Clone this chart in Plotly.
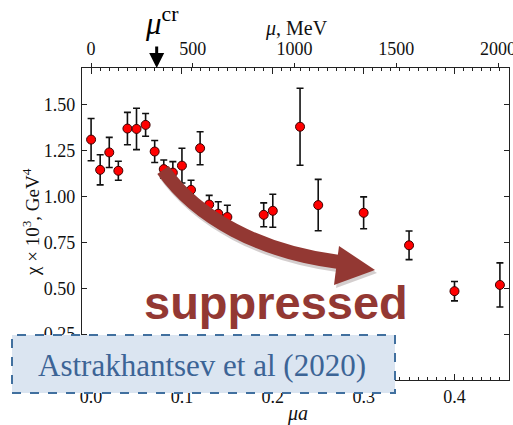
import plotly.graph_objects as go

# ---- data ----
mu_a = [0.00, 0.01, 0.02, 0.03, 0.04, 0.05, 0.06, 0.07, 0.08, 0.09, 0.10, 0.11,
        0.12, 0.13, 0.14, 0.15, 0.19, 0.20, 0.23, 0.25, 0.30, 0.35, 0.40, 0.45]
chi = [1.31, 1.145, 1.24, 1.14, 1.37, 1.368, 1.39, 1.245, 1.149, 1.13, 1.168, 1.036,
       1.263, 0.956, 0.906, 0.888, 0.90, 0.922, 1.38, 0.953, 0.911, 0.734, 0.484, 0.518]
chi_err = [0.115, 0.082, 0.082, 0.052, 0.088, 0.113, 0.062, 0.06, 0.05, 0.06, 0.095, 0.052,
           0.09, 0.05, 0.065, 0.064, 0.065, 0.09, 0.21, 0.14, 0.087, 0.078, 0.053, 0.12]
inv_a_MeV = 4465.0
mu_cr_a = 0.0722
top_ticks = [0, 500, 1000, 1500, 2000]
left_ticks = [0.0, 0.25, 0.5, 0.75, 1.0, 1.25, 1.5]

X_RANGE = [-0.01, 0.46]
Y_RANGE = [0.0, 1.70]

SERIF = "Liberation Serif"
RED = "#933833"

fig = go.Figure()

fig.add_trace(go.Scatter(
    x=mu_a, y=chi, mode="markers",
    marker=dict(color="#ff0000", size=9, line=dict(color="#3a0000", width=1)),
    error_y=dict(type="data", array=chi_err, color="#111111", thickness=1.6, width=3.5),
    showlegend=False, hoverinfo="skip"))

# invisible trace to anchor the top (MeV) axis
fig.add_trace(go.Scatter(
    x=[v * inv_a_MeV for v in mu_a], y=chi, xaxis="x2", mode="markers",
    marker=dict(opacity=0), showlegend=False, hoverinfo="skip"))

# ---- decorative curved arrow (pixel design converted to data coords) ----
def dx(px):
    return X_RANGE[0] + (px - 82) / 427 * (X_RANGE[1] - X_RANGE[0])

def dy(py):
    return Y_RANGE[0] + (380 - py) / 312 * (Y_RANGE[1] - Y_RANGE[0])

def curve_path(o=(0, 0)):
    pts = [(163, 170), (197, 218), (260, 252), (339, 262)]
    p = [(dx(a + o[0]), dy(b + o[1])) for a, b in pts]
    return (f"M {p[0][0]},{p[0][1]} C {p[1][0]},{p[1][1]} "
            f"{p[2][0]},{p[2][1]} {p[3][0]},{p[3][1]}")

def head_path(o=(0, 0)):
    pts = [(339, 246), (375, 270), (334, 285)]
    p = [(dx(a + o[0]), dy(b + o[1])) for a, b in pts]
    return f"M {p[0][0]},{p[0][1]} L {p[1][0]},{p[1][1]} L {p[2][0]},{p[2][1]} Z"

shadow = "rgba(60,30,30,0.22)"
fig.add_shape(type="path", path=curve_path((2, 3)), xref="x", yref="y",
              line=dict(color=shadow, width=15), layer="above")
fig.add_shape(type="path", path=head_path((2, 3)), xref="x", yref="y",
              fillcolor=shadow, line=dict(width=0), layer="above")
fig.add_shape(type="path", path=curve_path(), xref="x", yref="y",
              line=dict(color=RED, width=14), layer="above")
fig.add_shape(type="path", path=head_path(), xref="x", yref="y",
              fillcolor=RED, line=dict(width=0), layer="above")

# ---- citation box ----
fig.add_shape(type="rect", xref="paper", yref="paper",
              x0=(12 - 82) / 427, x1=(395 - 82) / 427,
              y0=(380 - 393) / 312, y1=(380 - 335) / 312,
              fillcolor="#dbe5f1", line=dict(color="#41709f", width=2, dash="dash"),
              layer="above")

fig.add_annotation(text="Astrakhantsev et al (2020)", xref="paper", yref="paper",
                   x=(202 - 82) / 427, y=(380 - 365) / 312, showarrow=False,
                   xanchor="center", yanchor="middle",
                   font=dict(family=SERIF, size=31, color="#3c6496"))

fig.add_annotation(text="<b>suppressed</b>", xref="paper", yref="paper",
                   x=(276 - 82) / 427, y=(380 - 302) / 312, showarrow=False,
                   xanchor="center", yanchor="middle",
                   font=dict(family="Liberation Sans", size=47, color=RED))

# ---- mu^cr marker ----
fig.add_annotation(text="", x=mu_cr_a, xref="x", y=1.0, yref="paper",
                   showarrow=True, ax=0, ay=-23, arrowhead=2, arrowsize=1,
                   arrowwidth=3, arrowcolor="black")
fig.add_annotation(text="<i>μ</i><sup>cr</sup>", xref="paper", yref="paper",
                   x=(162 - 82) / 427, y=(380 - 21) / 312, showarrow=False,
                   xanchor="center", yanchor="middle",
                   font=dict(family=SERIF, size=31, color="black"))

# ---- axis titles ----
fig.add_annotation(text="<i>μ</i>, MeV", xref="paper", yref="paper",
                   x=(296 - 82) / 427, y=(380 - 28) / 312, showarrow=False,
                   xanchor="center", yanchor="middle",
                   font=dict(family=SERIF, size=20, color="#111"))
fig.add_annotation(text="<i>μa</i>", xref="paper", yref="paper",
                   x=(297 - 82) / 427, y=(380 - 413) / 312, showarrow=False,
                   xanchor="center", yanchor="middle",
                   font=dict(family=SERIF, size=20, color="#111"))
fig.add_annotation(text="χ × 10<sup>3</sup>, GeV<sup>4</sup>", xref="paper", yref="paper",
                   x=(31 - 82) / 427, y=(380 - 222) / 312, showarrow=False,
                   textangle=-90, xanchor="center", yanchor="middle",
                   font=dict(family=SERIF, size=19, color="#111"))

tickfont = dict(family=SERIF, size=18, color="#111")

fig.update_layout(
    width=513, height=425,
    margin=dict(l=82, r=4, t=68, b=45, autoexpand=False),
    paper_bgcolor="white", plot_bgcolor="white",
    showlegend=False,
    xaxis=dict(range=X_RANGE, dtick=0.1, tick0=0, tickformat=".1f",
               ticks="inside", ticklen=6, tickwidth=1, tickcolor="#222",
               minor=dict(dtick=0.01, ticks="inside", ticklen=3, tickwidth=1, tickcolor="#222"),
               showline=True, linecolor="#222", linewidth=1.2, mirror="ticks",
               showgrid=False, zeroline=False, tickfont=tickfont, ticklabelstandoff=0,
               automargin=False),
    xaxis2=dict(range=[X_RANGE[0] * inv_a_MeV, X_RANGE[1] * inv_a_MeV],
                overlaying="x", side="top", tickvals=top_ticks,
                ticks="outside", ticklen=4, tickwidth=1, tickcolor="#222",
                ticklabeloverflow="allow", automargin=False,
                showgrid=False, zeroline=False, tickfont=tickfont, ticklabelstandoff=1),
    yaxis=dict(range=Y_RANGE, tickvals=left_ticks, tickformat=".2f",
               ticks="inside", ticklen=5, tickwidth=1, tickcolor="#222",
               showline=True, linecolor="#222", linewidth=1.2, mirror="ticks",
               showgrid=False, zeroline=False, tickfont=tickfont, ticklabelstandoff=2,
               automargin=False),
)

fig.write_html("out.html")
